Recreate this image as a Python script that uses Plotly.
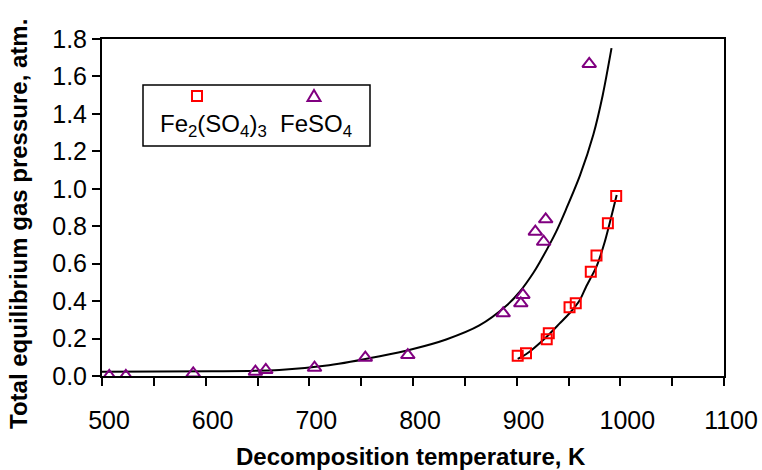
import plotly.graph_objects as go

# ---- data ----
feso4_T = [507, 523, 588, 648, 658, 705, 754, 795, 887, 904, 906, 918, 926, 928, 970]
feso4_P = [0.0, 0.0, 0.014, 0.023, 0.032, 0.044, 0.098, 0.112, 0.335, 0.388, 0.433, 0.771, 0.717, 0.837, 1.667]

fe2so43_T = [901, 909, 929, 931, 951, 957, 971.5, 977, 988, 996]
fe2so43_P = [0.108, 0.121, 0.196, 0.228, 0.367, 0.388, 0.557, 0.643, 0.816, 0.962]

fit1_T = [500, 606, 671, 719, 768, 800, 832, 864, 890, 903, 916, 922, 938, 948, 961, 974, 983, 991.5]
fit1_P = [0.023, 0.025, 0.032, 0.057, 0.105, 0.144, 0.195, 0.270, 0.375, 0.450, 0.550, 0.605, 0.770, 0.895, 1.070, 1.290, 1.500, 1.751]

fit2_T = [901, 909, 929, 941.5, 951, 961, 967, 977, 985, 996.5]
fit2_P = [0.091, 0.116, 0.210, 0.281, 0.335, 0.406, 0.477, 0.584, 0.717, 0.967]

x_ticks = [500, 600, 700, 800, 900, 1000, 1100]
y_ticks = [0.0, 0.2, 0.4, 0.6, 0.8, 1.0, 1.2, 1.4, 1.6, 1.8]

FONT = "Liberation Sans, Arial, sans-serif"
RED = "#FF0000"
PURPLE = "#800080"

W, H = 762, 470
L, R, T, B = 102, 38, 39, 94


def px(x):
    return (x - L) / (W - L - R)


def py(y):
    return (H - B - y) / (H - T - B)


fig = go.Figure()

fig.add_trace(go.Scatter(x=fit1_T, y=fit1_P, mode="lines",
                         line=dict(color="black", width=2, shape="spline", smoothing=0.8),
                         showlegend=False, hoverinfo="skip"))
fig.add_trace(go.Scatter(x=fit2_T, y=fit2_P, mode="lines",
                         line=dict(color="black", width=2, shape="spline", smoothing=0.6),
                         showlegend=False, hoverinfo="skip"))
fig.add_trace(go.Scatter(x=feso4_T, y=feso4_P, mode="markers", name="FeSO4",
                         marker=dict(symbol="triangle-up-open", size=12, color=PURPLE,
                                     line=dict(color=PURPLE, width=2)),
                         showlegend=False))
fig.add_trace(go.Scatter(x=fe2so43_T, y=fe2so43_P, mode="markers", name="Fe2(SO4)3",
                         marker=dict(symbol="square-open", size=10, color=RED,
                                     line=dict(color=RED, width=2)),
                         showlegend=False))

shapes = []
# legend box
shapes.append(dict(type="rect", xref="paper", yref="paper",
                   x0=px(143), x1=px(370), y0=py(146), y1=py(85),
                   line=dict(color="black", width=1.5), fillcolor="white", layer="below"))
# legend square symbol
shapes.append(dict(type="rect", xref="paper", yref="paper",
                   x0=px(192), x1=px(202), y0=py(101), y1=py(91),
                   line=dict(color=RED, width=2)))
# legend triangle symbol
tx, ty = 314, 96
shapes.append(dict(type="path", xref="paper", yref="paper",
                   path=f"M {px(tx-6.5)} {py(ty+5)} L {px(tx+6.5)} {py(ty+5)} L {px(tx)} {py(ty-6)} Z",
                   line=dict(color=PURPLE, width=2)))

annotations = [
    dict(text="Fe<sub>2</sub>(SO<sub>4</sub>)<sub>3</sub>", xref="paper", yref="paper",
         x=px(213), y=py(125), xanchor="center", yanchor="middle", showarrow=False,
         font=dict(family=FONT, size=24, color="black")),
    dict(text="FeSO<sub>4</sub>", xref="paper", yref="paper",
         x=px(316), y=py(125), xanchor="center", yanchor="middle", showarrow=False,
         font=dict(family=FONT, size=24, color="black")),
    dict(text="<b>Decomposition temperature, K</b>", xref="paper", yref="paper",
         x=px(411), y=py(456), xanchor="center", yanchor="middle", showarrow=False,
         font=dict(family=FONT, size=24, color="black")),
    dict(text="<b>Total equilibrium gas pressure, atm.</b>", xref="paper", yref="paper",
         x=px(18), y=py(224), xanchor="center", yanchor="middle", showarrow=False,
         textangle=-90, font=dict(family=FONT, size=24, color="black")),
]

fig.update_layout(
    width=W, height=H,
    margin=dict(l=L, r=R, t=T, b=B, pad=0, autoexpand=False),
    paper_bgcolor="white", plot_bgcolor="white",
    font=dict(family=FONT, size=25, color="black"),
    shapes=shapes, annotations=annotations,
    showlegend=False,
)

fig.update_xaxes(range=[500, 1100], tickvals=x_ticks, ticktext=[str(v) for v in x_ticks],
                 showgrid=False, zeroline=False, automargin=False,
                 showline=True, linecolor="black", linewidth=2, mirror=True,
                 ticks="outside", ticklen=8, tickwidth=1.5, tickcolor="black",
                 minor=dict(dtick=50, tick0=500, ticks="outside", ticklen=8, tickwidth=1.5,
                            tickcolor="black", showgrid=False),
                 ticklabelshift=7, ticklabelstandoff=13,
                 tickfont=dict(family=FONT, size=25, color="black"))
fig.update_yaxes(range=[0, 1.8], tickvals=y_ticks, ticktext=[f"{v:.1f}" for v in y_ticks],
                 showgrid=False, zeroline=False, automargin=False,
                 showline=True, linecolor="black", linewidth=2, mirror=True,
                 ticks="outside", ticklen=8, tickwidth=1.5, tickcolor="black",
                 tickfont=dict(family=FONT, size=25, color="black"))

fig.write_html("out.html")
